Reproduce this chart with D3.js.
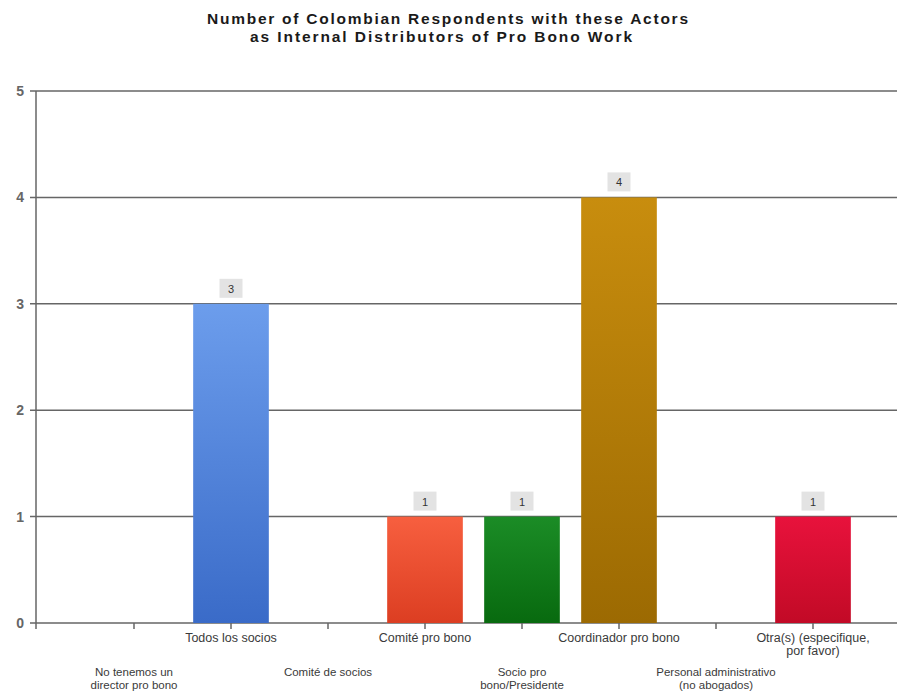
<!DOCTYPE html>
<html>
<head>
<meta charset="utf-8">
<script src="https://cdn.jsdelivr.net/npm/d3@7"></script>
<style>
  html, body { margin: 0; padding: 0; background: #fff; }
  svg { display: block; font-family: "Liberation Sans", Arial, sans-serif; }
</style>
</head>
<body>
<svg id="chart" width="897" height="692"></svg>
<script>
const titleLines = ["Number of Colombian Respondents with these Actors", "as Internal Distributors of Pro Bono Work"];
const categories = [
  "No tenemos un director pro bono",
  "Todos los socios",
  "Comité de socios",
  "Comité pro bono",
  "Socio pro bono/Presidente",
  "Coordinador pro bono",
  "Personal administrativo (no abogados)",
  "Otra(s) (especifique, por favor)"
];
const labelLines = [
  ["No tenemos un", "director pro bono"],
  ["Todos los socios"],
  ["Comité de socios"],
  ["Comité pro bono"],
  ["Socio pro", "bono/Presidente"],
  ["Coordinador pro bono"],
  ["Personal administrativo", "(no abogados)"],
  ["Otra(s)  (especifique,", "por favor)"]
];
const values = [0, 3, 0, 1, 1, 4, 0, 1];
const colors = [
  ["#6c9dec", "#3a6bc8"],
  ["#6c9dec", "#3a6bc8"],
  ["#6c9dec", "#3a6bc8"],
  ["#f75f3f", "#dc3e22"],
  ["#1b8c26", "#086a0f"],
  ["#c88d0e", "#9c6a02"],
  ["#6c9dec", "#3a6bc8"],
  ["#e8123c", "#c20a26"]
];
const yTicks = [0, 1, 2, 3, 4, 5];

const svg = d3.select("#chart");
const axisX = 36;
const x = d3.scaleBand().domain(categories).range([85.5, 861.5]).paddingInner(0.22).paddingOuter(0.11);
const y = d3.scaleLinear().domain([0, 5]).range([623, 91]);

const defs = svg.append("defs");
categories.forEach((c, i) => {
  const g = defs.append("linearGradient").attr("id", "g" + i)
    .attr("x1", 0).attr("y1", 0).attr("x2", 0).attr("y2", 1);
  g.append("stop").attr("offset", "0%").attr("stop-color", colors[i][0]);
  g.append("stop").attr("offset", "100%").attr("stop-color", colors[i][1]);
});

// title
svg.append("g").selectAll("text").data(titleLines).join("text")
  .attr("x", (d, i) => i === 0 ? 447.5 : 441)
  .attr("y", (d, i) => 24 + i * 18)
  .attr("text-anchor", "middle")
  .attr("font-weight", "bold")
  .attr("font-size", 15.5)
  .attr("fill", "#1a1a1a")
  .attr("textLength", (d, i) => i === 0 ? 481 : 382)
  .attr("lengthAdjust", "spacing")
  .text(d => d);

// gridlines
svg.append("g").selectAll("line").data(yTicks).join("line")
  .attr("x1", axisX - 6).attr("x2", 897)
  .attr("y1", d => y(d)).attr("y2", d => y(d))
  .attr("stroke", "#666").attr("stroke-width", 1.5);

// y axis line
svg.append("line").attr("x1", axisX).attr("x2", axisX)
  .attr("y1", y(5)).attr("y2", y(0) + 6)
  .attr("stroke", "#666").attr("stroke-width", 1.5);

// y tick labels
svg.append("g").selectAll("text").data(yTicks).join("text")
  .attr("x", 24).attr("y", d => y(d) + 5)
  .attr("text-anchor", "end")
  .attr("font-size", 14).attr("font-weight", "bold")
  .attr("fill", "#666")
  .text(d => d);

// x ticks
svg.append("g").selectAll("line").data(categories).join("line")
  .attr("x1", d => x(d) + x.bandwidth() / 2).attr("x2", d => x(d) + x.bandwidth() / 2)
  .attr("y1", y(0)).attr("y2", y(0) + 6)
  .attr("stroke", "#666").attr("stroke-width", 1.5);

const shown = categories.filter((c, i) => values[i] > 0);
const val = d => values[categories.indexOf(d)];

// bars
svg.append("g").selectAll("rect").data(shown).join("rect")
  .attr("x", d => x(d))
  .attr("width", x.bandwidth())
  .attr("y", d => y(val(d)))
  .attr("height", d => y(0) - y(val(d)))
  .attr("fill", d => "url(#g" + categories.indexOf(d) + ")");

// value labels
const vl = svg.append("g").selectAll("g").data(shown).join("g")
  .attr("transform", d => `translate(${x(d) + x.bandwidth() / 2},${y(val(d)) - 6})`);
vl.append("rect").attr("x", -11.5).attr("y", -19).attr("width", 23).attr("height", 19)
  .attr("fill", "#e3e3e3");
vl.append("text").attr("y", -5).attr("text-anchor", "middle")
  .attr("font-size", 11).attr("fill", "#333")
  .text(d => val(d));

// category labels (staggered rows)
const cl = svg.append("g").selectAll("text").data(categories).join("text")
  .attr("text-anchor", "middle")
  .attr("font-size", (d, i) => i % 2 === 1 ? 12.5 : 11.5)
  .attr("fill", "#3a3a3a")
  .attr("transform", (d, i) => `translate(${x(d) + x.bandwidth() / 2},${i % 2 === 1 ? 642 : 676})`);
cl.selectAll("tspan").data((d, i) => labelLines[i]).join("tspan")
  .attr("x", 0)
  .attr("dy", (d, j) => j === 0 ? 0 : 13)
  .text(d => d);
</script>
</body>
</html>
